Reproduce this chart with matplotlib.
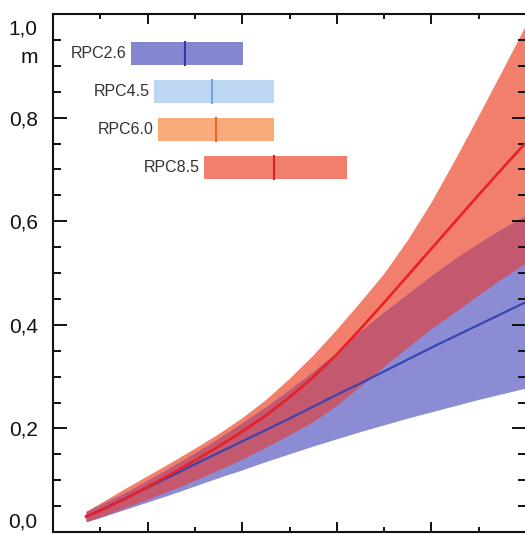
import numpy as np
import matplotlib.pyplot as plt
from matplotlib.ticker import MultipleLocator, NullFormatter, FixedLocator, FixedFormatter

plt.rcParams['font.family'] = ['Liberation Sans', 'DejaVu Sans']

# sea level rise projections (m)
years = np.array([2007, 2010, 2015, 2020, 2025, 2030, 2035, 2040, 2045, 2050,
                  2055, 2060, 2065, 2070, 2075, 2080, 2085, 2090, 2095, 2100])

rcp85_mid = np.array([0.030, 0.041, 0.063, 0.087, 0.112, 0.138, 0.165, 0.194, 0.225, 0.260,
                      0.299, 0.343, 0.392, 0.443, 0.495, 0.547, 0.599, 0.651, 0.702, 0.752])
rcp85_hi = np.array([0.040, 0.056, 0.083, 0.109, 0.135, 0.162, 0.190, 0.221, 0.256, 0.297,
                     0.342, 0.392, 0.445, 0.500, 0.565, 0.638, 0.720, 0.805, 0.892, 0.980])
rcp85_lo = np.array([0.020, 0.029, 0.046, 0.063, 0.081, 0.100, 0.120, 0.141, 0.164, 0.188,
                     0.213, 0.245, 0.282, 0.320, 0.357, 0.393, 0.425, 0.458, 0.490, 0.520])

rcp26_mid = np.array([0.030, 0.042, 0.064, 0.086, 0.108, 0.131, 0.153, 0.175, 0.197, 0.219,
                      0.242, 0.265, 0.287, 0.310, 0.333, 0.356, 0.378, 0.400, 0.422, 0.444])
rcp26_hi = np.array([0.040, 0.053, 0.075, 0.100, 0.126, 0.153, 0.181, 0.211, 0.242, 0.275,
                     0.310, 0.347, 0.388, 0.425, 0.460, 0.495, 0.528, 0.558, 0.586, 0.612])
rcp26_lo = np.array([0.020, 0.028, 0.043, 0.058, 0.073, 0.089, 0.105, 0.120, 0.136, 0.151,
                     0.166, 0.180, 0.194, 0.207, 0.220, 0.232, 0.244, 0.256, 0.267, 0.278])

# ranges for 2081-2100 shown as horizontal bars
scenarios = ['RPC2.6', 'RPC4.5', 'RPC6.0', 'RPC8.5']
range_lo = [0.26, 0.32, 0.33, 0.45]
range_med = [0.40, 0.47, 0.48, 0.63]
range_hi = [0.55, 0.63, 0.63, 0.82]
bar_colors = ['#8686D0', '#BDD6F2', '#F8AA7A', '#F07F6C']
med_colors = ['#2B3BA6', '#6FA6DA', '#E8662A', '#E0202A']

salmon = '#F27F6B'
lavender = '#8C8CD4'
mauve = '#C4586E'

fig = plt.figure(figsize=(5.25, 5.34), dpi=100)
ax = fig.add_axes([53 / 525, 2 / 534, 473 / 525, 518 / 534])

ax.fill_between(years, rcp85_lo, rcp85_hi, color=salmon, lw=0)
ax.fill_between(years, rcp26_lo, rcp26_hi, color=lavender, lw=0)
both_lo = np.maximum(rcp85_lo, rcp26_lo)
both_hi = np.minimum(rcp85_hi, rcp26_hi)
ax.fill_between(years, both_lo, both_hi, where=both_hi > both_lo, color=mauve, lw=0)
ax.plot(years, rcp26_mid, color='#3A45B0', lw=1.6)
ax.plot(years, rcp85_mid, color='#E8202A', lw=1.9)

ax.set_xlim(2000, 2100)
ax.set_ylim(0, 1.0)
ax.xaxis.set_major_locator(MultipleLocator(20))
ax.xaxis.set_minor_locator(MultipleLocator(10))
ax.xaxis.set_major_formatter(NullFormatter())
# top label is placed by hand below, it sits lower than its tick
ax.yaxis.set_major_locator(FixedLocator([0, 0.2, 0.4, 0.6, 0.8, 1.0]))
ax.yaxis.set_major_formatter(FixedFormatter(['0,0', '0,2', '0,4', '0,6', '0,8', '']))
ax.yaxis.set_minor_locator(MultipleLocator(0.05))

ax.tick_params(which='both', direction='in', top=True, right=True, width=1.4, colors='#111111')
ax.tick_params(axis='x', which='major', length=7)
ax.tick_params(axis='x', which='minor', length=3.8)
ax.tick_params(axis='y', which='major', length=10, labelsize=15, pad=11)
ax.tick_params(axis='y', which='minor', length=5.5)
for s in ax.spines.values():
    s.set_linewidth(1.5)
    s.set_color('#111111')
ax.spines['right'].set_visible(False)

ylabels = ax.get_yticklabels()
ylabels[0].set_verticalalignment('bottom')

ax.text(-0.032, 0.974, '1,0', transform=ax.get_yaxis_transform(), ha='right', va='center_baseline',
        fontsize=15, color='#111111')
ax.text(-0.032, 0.906, 'm', transform=ax.get_yaxis_transform(), ha='right', va='baseline',
        fontsize=15, color='#111111')

# overlay axes for the range bars, x in metres
ax2 = fig.add_axes(ax.get_position(), facecolor='none')
ax2.set_xlim((53 - 30) / 387, (526 - 30) / 387)
ax2.set_ylim(0, 1.0)
ax2.axis('off')
for i, name in enumerate(scenarios):
    yc = 0.924 - i * 0.0735
    ax2.barh(yc, range_hi[i] - range_lo[i], left=range_lo[i], height=0.043, color=bar_colors[i], lw=0)
    ax2.plot([range_med[i], range_med[i]], [yc - 0.0215, yc + 0.0215], color=med_colors[i], lw=1.5)
    ax2.annotate(name, (range_lo[i], yc), xytext=(-4, 0), textcoords='offset pixels',
                 ha='right', va='center', fontsize=11.5, color='#333333')

fig.savefig('out.png', dpi=100)
